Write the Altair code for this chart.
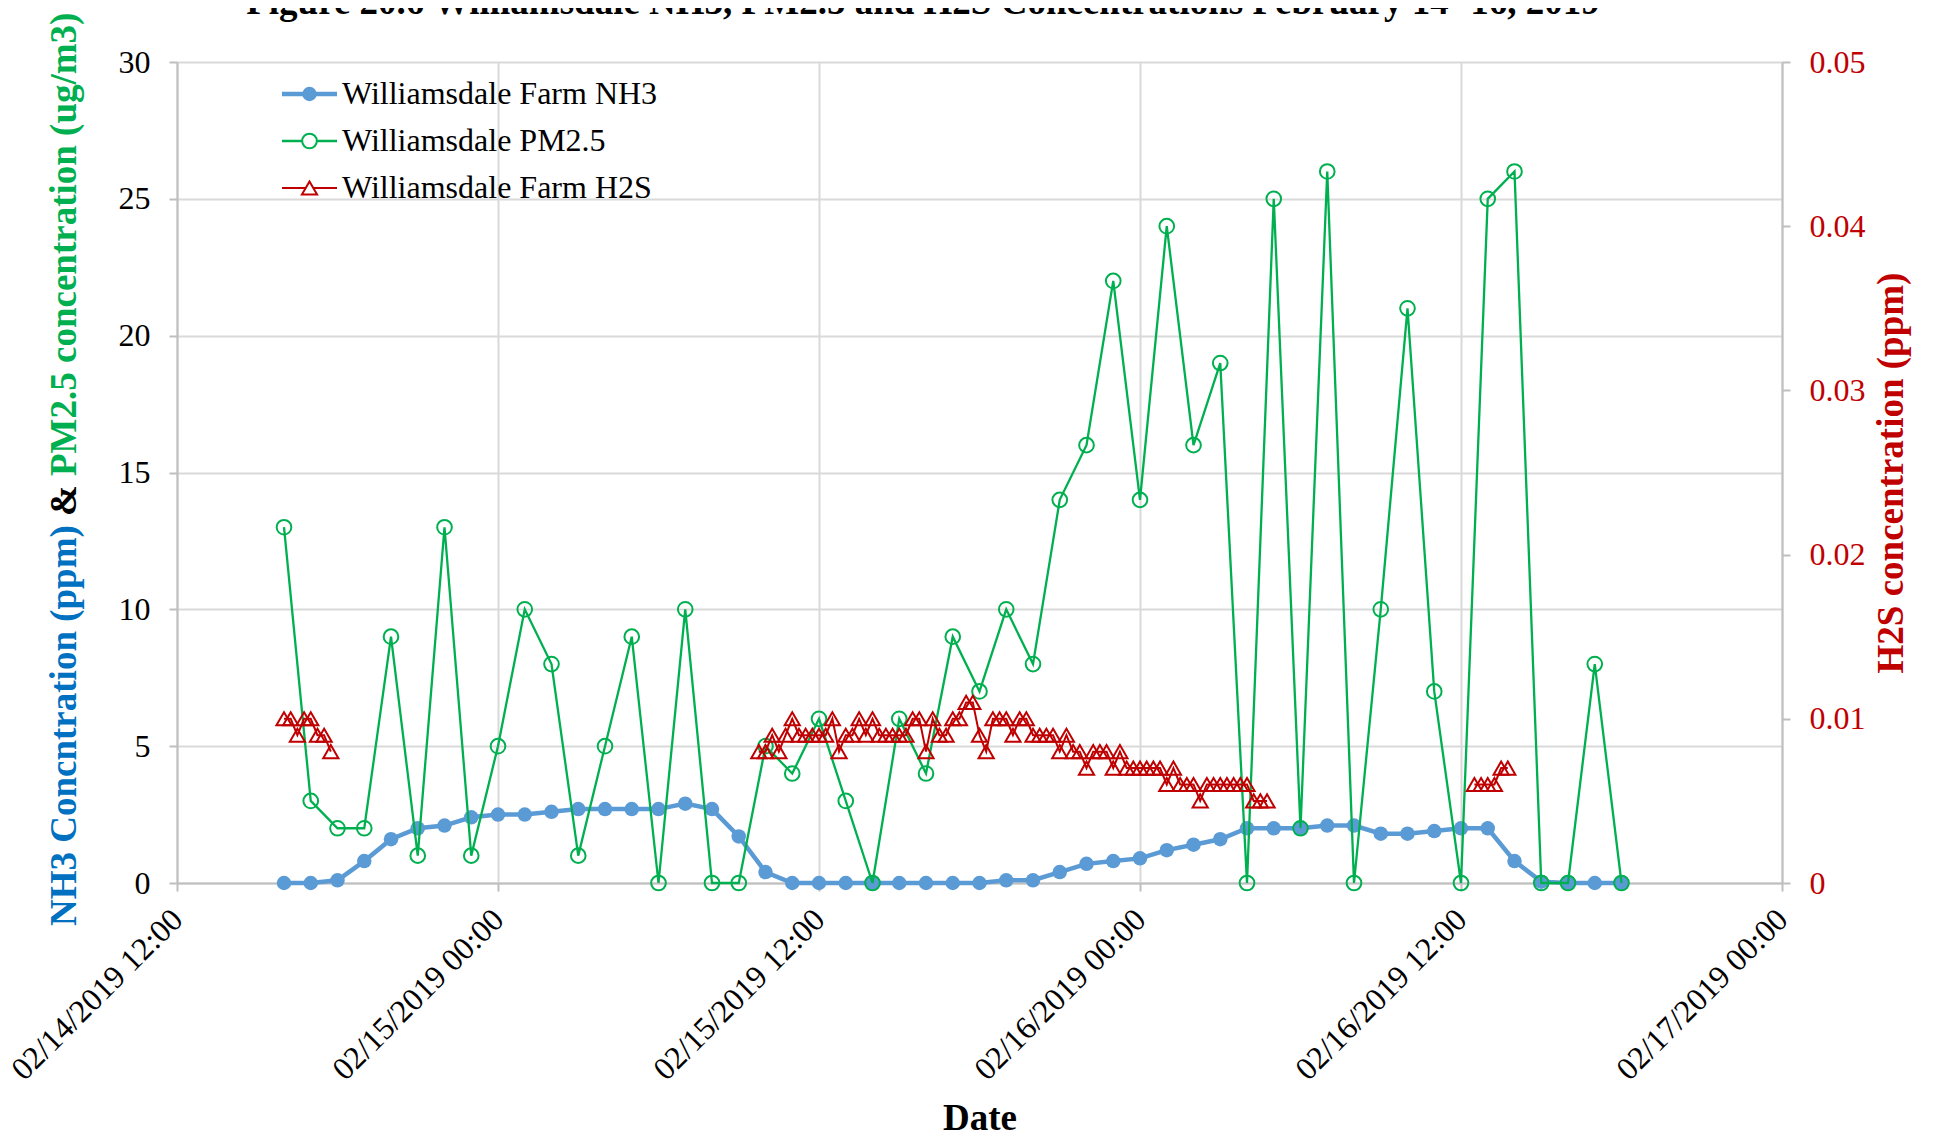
import altair as alt
import pandas as pd

# ---------------- data ----------------
hourly_start = "2019-02-14 16:00"
hourly_end = "2019-02-16 18:00"

nh3_ppm = [0, 0, 0.1, 0.8, 1.6, 2.0, 2.1, 2.4, 2.5, 2.5, 2.6, 2.7, 2.7, 2.7, 2.7, 2.9, 2.7,
           1.7, 0.4, 0, 0, 0, 0, 0, 0, 0, 0, 0.1, 0.1, 0.4, 0.7, 0.8, 0.9, 1.2, 1.4, 1.6,
           2.0, 2.0, 2.0, 2.1, 2.1, 1.8, 1.8, 1.9, 2.0, 2.0, 0.8, 0.05, 0, 0, 0]

pm25_ugm3 = [13, 3, 2, 2, 9, 1, 13, 1, 5, 10, 8, 1, 5, 9, 0, 10, 0, 0, 5, 4, 6, 3, 0, 6, 4,
             9, 7, 10, 8, 14, 16, 22, 14, 24, 16, 19, 0, 25, 2, 26, 0, 10, 21, 7, 0, 25, 26,
             0, 0, 8, 0]

# H2S, 15-minute readings, three separate runs
h2s_starts = ["2019-02-14 16:00", "2019-02-15 09:45", "2019-02-16 12:30"]
h2s_seg1 = [0.010, 0.010, 0.009, 0.010, 0.010, 0.009, 0.009, 0.008]
h2s_seg2 = [0.008,
            0.008, 0.009, 0.008, 0.009,
            0.010, 0.009, 0.009, 0.009,
            0.009, 0.009, 0.010, 0.008,
            0.009, 0.009, 0.010, 0.009,
            0.010, 0.009, 0.009, 0.009,
            0.009, 0.009, 0.010, 0.010,
            0.008, 0.010, 0.009, 0.009,
            0.010, 0.010, 0.011, 0.011,
            0.009, 0.008, 0.010, 0.010,
            0.010, 0.009, 0.010, 0.010,
            0.009, 0.009, 0.009, 0.009,
            0.008, 0.009, 0.008, 0.008,
            0.007, 0.008, 0.008, 0.008,
            0.007, 0.008, 0.007, 0.007,
            0.007, 0.007, 0.007, 0.007,
            0.006, 0.007, 0.006, 0.006,
            0.006, 0.005, 0.006, 0.006,
            0.006, 0.006, 0.006, 0.006,
            0.006, 0.005, 0.005, 0.005]
h2s_seg3 = [0.006, 0.006, 0.006, 0.006, 0.007, 0.007]

x_ticks = ["2019-02-14 12:00", "2019-02-15 00:00", "2019-02-15 12:00",
           "2019-02-16 00:00", "2019-02-16 12:00", "2019-02-17 00:00"]
y_left_ticks = [0, 5, 10, 15, 20, 25, 30]
y_right_ticks = [0, 0.01, 0.02, 0.03, 0.04, 0.05]

series_names = ["Williamsdale Farm NH3", "Williamsdale PM2.5", "Williamsdale Farm H2S"]
NH3_C, PM_C, H2S_C = "#5B9BD5", "#00B050", "#C00000"
TITLE_BLUE = "#0070C0"
GRID_C, AXIS_C = "#D9D9D9", "#BFBFBF"
FONT = "Liberation Serif"
W, H = 1605, 821
NH3_SIZE, PM_SIZE, TRI_SIZE = 210, 215, 230

# ---------------- tables ----------------
def iso(ts):
    return ts.strftime("%Y-%m-%dT%H:%M:%S")

hours = pd.date_range(hourly_start, hourly_end, freq="h")
df_nh3 = pd.DataFrame({"time": [iso(t) for t in hours], "value": nh3_ppm})
df_pm = pd.DataFrame({"time": [iso(t) for t in hours], "value": pm25_ugm3})
rows = []
for seg, (start, vals) in enumerate(zip(h2s_starts, [h2s_seg1, h2s_seg2, h2s_seg3])):
    ts = pd.date_range(start, periods=len(vals), freq="15min")
    for t, v in zip(ts, vals):
        rows.append({"time": iso(t), "value": v, "seg": seg})
df_h2s = pd.DataFrame(rows)


def dt(s):
    t = pd.Timestamp(s)
    return alt.DateTime(year=t.year, month=t.month, date=t.day, hours=t.hour, minutes=t.minute)


x_enc = alt.X(
    "time:T",
    title="Date",
    scale=alt.Scale(domain=[dt(x_ticks[0]), dt(x_ticks[-1])], nice=False),
    axis=alt.Axis(values=[dt(s) for s in x_ticks], format="%m/%d/%Y %H:%M",
                  labelAngle=-45, labelAlign="right", labelBaseline="middle",
                  labelFont=FONT, labelFontSize=32, labelColor="#000000", labelPadding=23,
                  labelFlush=False, labelOverlap=False, labelLimit=0,
                  tickSize=8, tickColor=AXIS_C, tickWidth=2,
                  domainColor=AXIS_C, domainWidth=2,
                  grid=True, gridColor=GRID_C, gridWidth=2,
                  titleFont=FONT, titleFontSize=37, titleFontWeight="bold", titleColor="#000000",
                  titleBaseline="alphabetic", titleAlign="center", titleX=W / 2, titleY=246),
)

left_axis = alt.Axis(values=y_left_ticks, title=None, labelFont=FONT, labelFontSize=32,
                     labelColor="#000000", labelPadding=19, labelFlush=False, labelLimit=0,
                     tickSize=8, tickColor=AXIS_C, tickWidth=2,
                     domainColor=AXIS_C, domainWidth=2,
                     grid=True, gridColor=GRID_C, gridWidth=2)
y_left = alt.Y("value:Q", scale=alt.Scale(domain=[0, 30], nice=False), axis=left_axis)

right_axis = alt.Axis(orient="right", values=y_right_ticks, format=".2~f",
                      title="H2S concentration (ppm)", titleColor=H2S_C, titleFont=FONT,
                      titleFontSize=37, titleFontWeight="bold", titleAngle=270,
                      titleBaseline="top", titleAlign="center", titleX=91, titleY=H / 2,
                      titleLimit=0,
                      labelFont=FONT, labelFontSize=32, labelColor=H2S_C, labelPadding=19,
                      labelFlush=False, labelLimit=0, tickSize=8, tickColor=AXIS_C, tickWidth=2,
                      domainColor=AXIS_C, domainWidth=2, grid=False)
y_right = alt.Y("value:Q", scale=alt.Scale(domain=[0, 0.05], nice=False), axis=right_axis)

nh3_line = alt.Chart(df_nh3).mark_line(color=NH3_C, strokeWidth=4.5).encode(x=x_enc, y=y_left)
nh3_pts = alt.Chart(df_nh3).mark_point(shape="circle", filled=True, size=NH3_SIZE, color=NH3_C,
                                        opacity=1).encode(x=x_enc, y=y_left)
pm_line = alt.Chart(df_pm).mark_line(color=PM_C, strokeWidth=2.3).encode(x=x_enc, y=y_left)
pm_pts = alt.Chart(df_pm).mark_point(shape="circle", filled=False, size=PM_SIZE, color=PM_C,
                                      strokeWidth=2, opacity=1).encode(x=x_enc, y=y_left)
left_group = alt.layer(nh3_line, nh3_pts, pm_line, pm_pts)

h2s_line = alt.Chart(df_h2s).mark_line(color=H2S_C, strokeWidth=2).encode(
    x=x_enc, y=y_right, detail="seg:N")
h2s_pts = alt.Chart(df_h2s).mark_point(shape="triangle-up", filled=False, size=TRI_SIZE,
                                        color=H2S_C, strokeWidth=2, opacity=1).encode(
    x=x_enc, y=y_right)
right_group = alt.layer(h2s_line, h2s_pts)

# ---------------- decorations: legend, composite left title, clipped top title ----------------
one = pd.DataFrame({"k": [0]})
deco = []
legend_rows = [32, 79, 126]
for name, color, yy, kind in zip(series_names, [NH3_C, PM_C, H2S_C], legend_rows,
                                 ["nh3", "pm", "h2s"]):
    lw = {"nh3": 4.5, "pm": 2.3, "h2s": 2}[kind]
    deco.append(alt.Chart(one).mark_rule(color=color, strokeWidth=lw).encode(
        x=alt.value(105), x2=alt.value(160), y=alt.value(yy)))
    if kind == "nh3":
        mk = alt.Chart(one).mark_point(shape="circle", filled=True, size=NH3_SIZE, color=color,
                                       opacity=1)
    elif kind == "pm":
        mk = alt.Chart(one).mark_point(shape="circle", filled=False, size=PM_SIZE, color=color,
                                       strokeWidth=2, opacity=1, fill="white", fillOpacity=1)
    else:
        mk = alt.Chart(one).mark_point(shape="triangle-up", filled=False, size=TRI_SIZE,
                                       color=color, strokeWidth=2, opacity=1, fill="white",
                                       fillOpacity=1)
    deco.append(mk.encode(x=alt.value(132.5), y=alt.value(yy)))
    deco.append(alt.Chart(one).mark_text(align="left", baseline="middle", font=FONT, fontSize=32,
                                         color="#000000").encode(
        x=alt.value(165), y=alt.value(yy), text=alt.value(name)))

left_title_parts = [("NH3 Concntration (ppm)", TITLE_BLUE, 864),
                    ("&", "#000000", 454),
                    ("PM2.5 concentration (ug/m3)", PM_C, 414)]
for txt, color, ystart in left_title_parts:
    deco.append(alt.Chart(one).mark_text(angle=270, align="left", baseline="middle", font=FONT,
                                         fontSize=37, fontWeight="bold", color=color).encode(
        x=alt.value(-112), y=alt.value(ystart), text=alt.value(txt)))

chart_title = "Figure 20.6 Williamsdale NH3, PM2.5 and H2S Concentrations February 14- 16, 2019"
deco.append(alt.Chart(one).mark_text(align="center", baseline="alphabetic", font=FONT, fontSize=37,
                                     fontWeight="bold", color="#000000").encode(
    x=alt.value(746), y=alt.value(-48), text=alt.value(chart_title)))

chart = alt.layer(left_group, right_group, *deco).resolve_scale(y="independent").properties(
    width=W, height=H,
    padding={"left": 169, "top": 54, "right": 140, "bottom": 253},
    autosize=alt.AutoSizeParams(type="none"),
    background="white",
).configure_view(stroke="transparent")

chart.save("out.html", embed_options={"renderer": "svg", "actions": False})
